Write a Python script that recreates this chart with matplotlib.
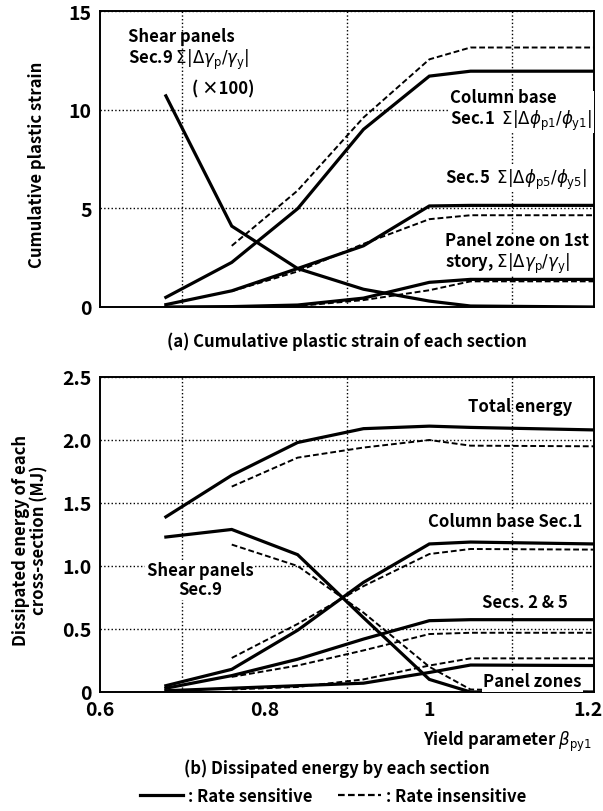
import numpy as np
import matplotlib
matplotlib.use("Agg")
import matplotlib.pyplot as plt
import matplotlib.transforms as mtransforms
from matplotlib.lines import Line2D

plt.rcParams['font.family'] = ['Noto Sans CJK JP', 'DejaVu Sans']
plt.rcParams['mathtext.fontset'] = 'dejavusans'

# yield parameter values (x)
beta = [0.68, 0.76, 0.84, 0.92, 1.0, 1.05, 1.2]
beta_d = [0.76, 0.84, 0.92, 1.0, 1.05, 1.2]

# (a) cumulative plastic strain
shear9_sens = [10.7, 4.1, 1.95, 0.9, 0.3, 0.05, 0.0]
col1_sens = [0.49, 2.26, 4.98, 9.0, 11.7, 11.95, 11.95]
col1_ins = [3.1, 5.9, 9.6, 12.55, 13.15, 13.15]
sec5_sens = [0.12, 0.82, 1.95, 3.1, 5.12, 5.15, 5.15]
sec5_ins = [0.8, 1.8, 3.2, 4.45, 4.65, 4.65]
pz_sens = [0.0, 0.02, 0.1, 0.45, 1.25, 1.4, 1.4]
pz_ins = [0.0, 0.05, 0.35, 0.85, 1.3, 1.3]

# (b) dissipated energy (MJ)
total_sens = [1.39, 1.72, 1.98, 2.09, 2.11, 2.10, 2.08]
total_ins = [1.63, 1.86, 1.94, 2.0, 1.955, 1.95]
shearE_sens = [1.23, 1.29, 1.09, 0.59, 0.10, 0.0, 0.0]
shearE_ins = [1.17, 1.0, 0.63, 0.2, 0.02, 0.0]
colE_sens = [0.05, 0.18, 0.49, 0.87, 1.175, 1.19, 1.175]
colE_ins = [0.27, 0.54, 0.84, 1.095, 1.135, 1.13]
s25_sens = [0.03, 0.13, 0.26, 0.42, 0.566, 0.574, 0.574]
s25_ins = [0.12, 0.21, 0.33, 0.46, 0.47, 0.47]
pzE_sens = [0.01, 0.03, 0.05, 0.07, 0.155, 0.214, 0.21]
pzE_ins = [0.02, 0.04, 0.10, 0.21, 0.267, 0.267]

xticks = [0.6, 0.8, 1.0, 1.2]
xticklabels = ['0.6', '0.8', '1', '1.2']
yticks_a = [0, 5, 10, 15]
yticks_b = [0, 0.5, 1.0, 1.5, 2.0, 2.5]
yticklabels_b = ['0', '0.5', '1.0', '1.5', '2.0', '2.5']

W, H = 603, 812
fig = plt.figure(figsize=(W / 100, H / 100), dpi=100)

def px_axes(l, t, r, b):
    return fig.add_axes([l / W, 1 - b / H, (r - l) / W, (b - t) / H])

ax1 = px_axes(100, 12, 594, 308)
ax2 = px_axes(100, 378, 594, 693)

solid = dict(color='black', lw=2.3, solid_joinstyle='miter')
dash = dict(color='black', lw=1.4, ls=(0, (3, 1.5)))
bb = dict(facecolor='white', edgecolor='none', pad=1)
tfont = dict(fontsize=12, fontweight='bold')

for ax in (ax1, ax2):
    ax.set_xlim(0.6, 1.2)
    ax.set_xticks(np.arange(0.6, 1.21, 0.1), minor=True)
    ax.grid(True, which='minor', axis='x', ls=':', color='black', lw=1.0)
    ax.grid(True, which='major', axis='y', ls=':', color='black', lw=1.0)
    ax.tick_params(which='both', length=0, labelsize=14, pad=6)
    for s in ax.spines.values():
        s.set_linewidth(1.4)

# (a)
ax1.set_ylim(0, 15)
ax1.set_yticks(yticks_a)
ax1.set_yticklabels([str(v) for v in yticks_a], fontweight='bold')
ax1.set_xticks(xticks)
ax1.set_xticklabels([])
ax1.grid(False, which='major', axis='x')
ax1.plot(beta, shear9_sens, **solid)
ax1.plot(beta, col1_sens, **solid)
ax1.plot(beta_d, col1_ins, **dash)
ax1.plot(beta, sec5_sens, **solid)
ax1.plot(beta_d, sec5_ins, **dash)
ax1.plot(beta, pz_sens, **solid)
ax1.plot(beta_d, pz_ins, **dash)

ax1.text(0.634, 14.2, 'Shear panels\nSec.9 $\\Sigma|\\Delta\\gamma_\\mathrm{p}/\\gamma_\\mathrm{y}|$',
         va='top', ha='left', linespacing=1.1, **tfont)
ax1.text(0.712, 11.05, '( \u00d7100)', va='center', ha='left', **tfont)
ax1.text(1.025, 11.1, 'Column base\nSec.1  $\\Sigma|\\Delta\\phi_\\mathrm{p1}/\\phi_\\mathrm{y1}|$',
         va='top', ha='left', linespacing=1.1, bbox=bb, **tfont)
ax1.text(1.019, 6.5, 'Sec.5  $\\Sigma|\\Delta\\phi_\\mathrm{p5}/\\phi_\\mathrm{y5}|$',
         va='center', ha='left', bbox=bb, **tfont)
ax1.text(1.019, 3.85, 'Panel zone on 1st\nstory, $\\Sigma|\\Delta\\gamma_\\mathrm{p}/\\gamma_\\mathrm{y}|$',
         va='top', ha='left', linespacing=1.1, bbox=bb, **tfont)

# (b)
ax2.set_ylim(0, 2.5)
ax2.set_yticks(yticks_b)
ax2.set_yticklabels(yticklabels_b, fontweight='bold')
ax2.set_xticks(xticks)
ax2.set_xticklabels(xticklabels, fontweight='bold')
ax2.grid(False, which='major', axis='x')
last = ax2.get_xticklabels()[-1]
last.set_transform(last.get_transform() + mtransforms.ScaledTranslation(-6 / 100, 0, fig.dpi_scale_trans))
ax2.plot(beta, total_sens, **solid)
ax2.plot(beta_d, total_ins, **dash)
ax2.plot(beta, shearE_sens, **solid)
ax2.plot(beta_d, shearE_ins, **dash)
ax2.plot(beta, colE_sens, **solid)
ax2.plot(beta_d, colE_ins, **dash)
ax2.plot(beta, s25_sens, **solid)
ax2.plot(beta_d, s25_ins, **dash)
ax2.plot(beta, pzE_sens, **solid)
ax2.plot(beta_d, pzE_ins, **dash)

ax2.text(1.047, 2.27, 'Total energy', va='center', ha='left', **tfont)
ax2.text(0.998, 1.36, 'Column base Sec.1', va='center', ha='left', bbox=bb, **tfont)
ax2.text(0.7215, 1.04, 'Shear panels\nSec.9', va='top', ha='center',
         multialignment='center', linespacing=1.1, bbox=bb, **tfont)
ax2.text(1.064, 0.714, 'Secs. 2 & 5', va='center', ha='left', bbox=bb, **tfont)
ax2.text(1.065, 0.085, 'Panel zones', va='center', ha='left', bbox=bb, **tfont)

fig.text(37 / W, 1 - 165 / H, 'Cumulative plastic strain', rotation=90,
         ha='center', va='center', **tfont)
fig.text(30 / W, 1 - 540 / H, 'Dissipated energy of each\ncross-section (MJ)',
         rotation=90, ha='center', va='center', multialignment='center',
         linespacing=1.05, **tfont)
fig.text(347 / W, 1 - 342 / H, '(a) Cumulative plastic strain of each section',
         ha='center', va='center', **tfont)
fig.text(592 / W, 1 - 742 / H, 'Yield parameter $\\beta_\\mathrm{py1}$',
         ha='right', va='center', **tfont)
fig.text(337 / W, 1 - 769 / H, '(b) Dissipated energy by each section',
         ha='center', va='center', **tfont)

handles = [Line2D([], [], **solid), Line2D([], [], color='black', lw=1.6, ls=(0, (3, 1.5)))]
leg = fig.legend(handles, [': Rate sensitive', ': Rate insensitive'], loc='center',
                 bbox_to_anchor=(333 / W, 1 - 797 / H), ncol=2, frameon=False,
                 handlelength=2.6, handletextpad=0.3, columnspacing=1.5,
                 prop=dict(size=12, weight='bold'))

fig.savefig('out.png', dpi=100)
